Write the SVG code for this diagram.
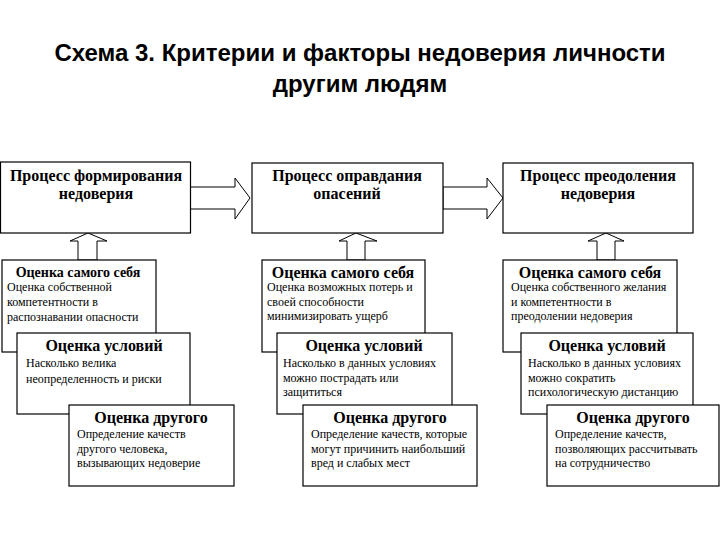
<svg xmlns="http://www.w3.org/2000/svg" width="720" height="540" viewBox="0 0 720 540">
<style>
.title{font-family:"Liberation Sans",Arial,sans-serif;font-weight:bold;font-size:24px;fill:#000;text-anchor:middle}
.box{fill:#fff;stroke:#000;stroke-width:1.2}
.arr{fill:#fff;stroke:#000;stroke-width:1}
.h1{font-family:"Liberation Serif","Times New Roman",serif;font-weight:bold;font-size:16px;fill:#000;text-anchor:middle}
.h2{font-family:"Liberation Serif","Times New Roman",serif;font-weight:bold;font-size:16px;fill:#000;text-anchor:middle}
.b{font-family:"Liberation Serif","Times New Roman",serif;font-size:12px;fill:#000}
</style>
<rect width="720" height="540" fill="#fff"/>
<text class="title" x="360" y="61">Схема 3. Критерии и факторы недоверия личности</text>
<text class="title" x="360" y="92">другим людям</text>

<g id="connectors">
<polygon class="arr" points="190,187 235,187 235,178 250,198 235,219 235,209 190,209"/>
<polygon class="arr" points="443,187 487,187 487,178 503,198 487,219 487,209 443,209"/>
<polygon class="arr" points="78,260 78,241 70,241 88,233 107,241 97,241 97,260"/>
<polygon class="arr" points="347,260 347,241 339,241 356,233 377,241 365,241 365,260"/>
<polygon class="arr" points="597,260 597,241 588,241 606,233 624,241 615,241 615,260"/>
</g>

<g id="proc1">
<rect class="box" x="0.5" y="162" width="190" height="71"/>
<text class="h1" x="96" y="181">Процесс формирования</text>
<text class="h1" x="96" y="199">недоверия</text>
</g>
<g id="proc2">
<rect class="box" x="252" y="163" width="191" height="70"/>
<text class="h1" x="347" y="181">Процесс оправдания</text>
<text class="h1" x="347" y="199">опасений</text>
</g>
<g id="proc3">
<rect class="box" x="503" y="163" width="190" height="70"/>
<text class="h1" x="598" y="181">Процесс преодоления</text>
<text class="h1" x="598" y="199">недоверия</text>
</g>

<g id="self1">
<rect class="box" x="2" y="260" width="154" height="92"/>
<text class="h2" x="78" y="277" style="font-size:14px">Оценка самого себя</text>
<text class="b" x="7" y="291">Оценка собственной</text>
<text class="b" x="7" y="306">компетентности в</text>
<text class="b" x="7" y="321">распознавании опасности</text>
</g>
<g id="cond1">
<rect class="box" x="17" y="333" width="173" height="81"/>
<text class="h2" x="104" y="351">Оценка условий</text>
<text class="b" x="26" y="367">Насколько велика</text>
<text class="b" x="26" y="383">неопределенность и риски</text>
</g>
<g id="other1">
<rect class="box" x="69" y="405" width="165" height="81"/>
<text class="h2" x="151" y="423">Оценка другого</text>
<text class="b" x="77" y="438">Определение качеств</text>
<text class="b" x="77" y="453">другого человека,</text>
<text class="b" x="77" y="467">вызывающих недоверие</text>
</g>

<g id="self2">
<rect class="box" x="262" y="260" width="163" height="92"/>
<text class="h2" x="343" y="278">Оценка самого себя</text>
<text class="b" x="267" y="291">Оценка возможных потерь и</text>
<text class="b" x="267" y="306">своей способности</text>
<text class="b" x="267" y="320">минимизировать ущерб</text>
</g>
<g id="cond2">
<rect class="box" x="277" y="333" width="175" height="81"/>
<text class="h2" x="364" y="351">Оценка условий</text>
<text class="b" x="283" y="367">Насколько в данных условиях</text>
<text class="b" x="283" y="382">можно пострадать или</text>
<text class="b" x="283" y="396">защититься</text>
</g>
<g id="other2">
<rect class="box" x="303" y="405" width="174" height="81"/>
<text class="h2" x="390" y="423">Оценка другого</text>
<text class="b" x="311" y="438">Определение качеств, которые</text>
<text class="b" x="311" y="453">могут причинить наибольший</text>
<text class="b" x="311" y="467">вред и слабых мест</text>
</g>

<g id="self3">
<rect class="box" x="503" y="260" width="174" height="92"/>
<text class="h2" x="590" y="278">Оценка самого себя</text>
<text class="b" x="511" y="291">Оценка собственного желания</text>
<text class="b" x="511" y="306">и компетентности в</text>
<text class="b" x="511" y="320">преодолении недоверия</text>
</g>
<g id="cond3">
<rect class="box" x="521" y="333" width="172" height="81"/>
<text class="h2" x="607" y="351">Оценка условий</text>
<text class="b" x="528" y="367">Насколько в данных условиях</text>
<text class="b" x="528" y="382">можно сократить</text>
<text class="b" x="528" y="396">психологическую дистанцию</text>
</g>
<g id="other3">
<rect class="box" x="547" y="405" width="172" height="81"/>
<text class="h2" x="633" y="423">Оценка другого</text>
<text class="b" x="555" y="438">Определение качеств,</text>
<text class="b" x="555" y="453">позволяющих  рассчитывать</text>
<text class="b" x="555" y="467">на сотрудничество</text>
</g>
</svg>
